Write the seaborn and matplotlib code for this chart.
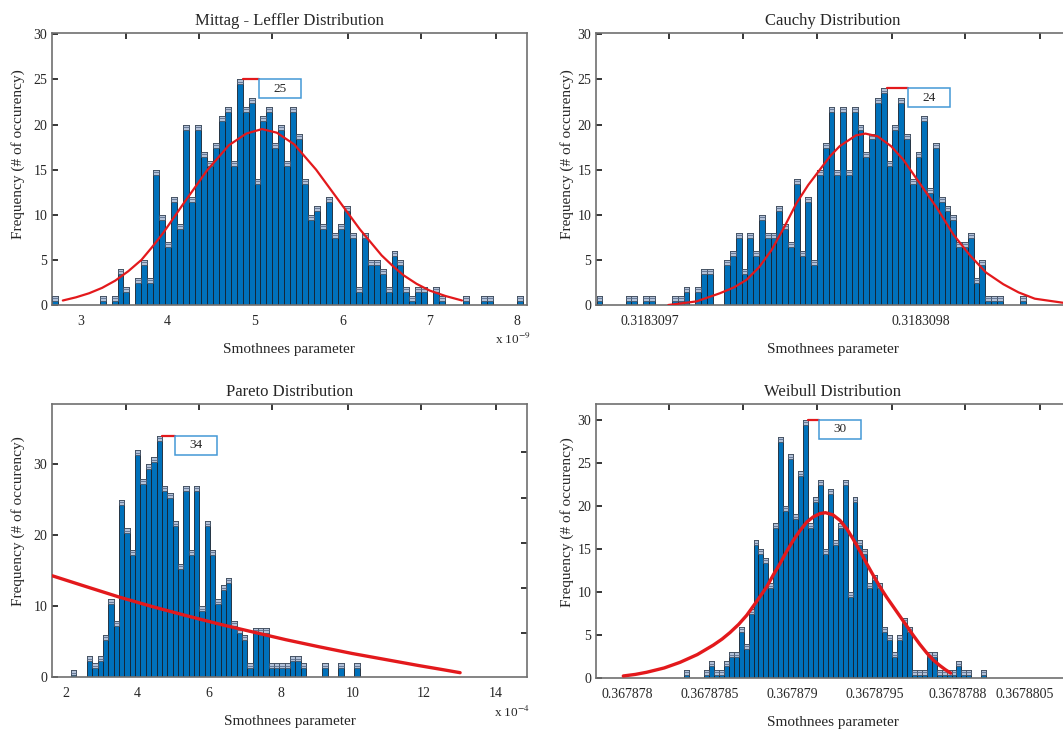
import numpy as np
import pandas as pd
import matplotlib
matplotlib.use("Agg")
import matplotlib.pyplot as plt
import matplotlib.transforms as mtransforms
from matplotlib.patches import Rectangle
from matplotlib.lines import Line2D
from matplotlib.ticker import FixedLocator
import seaborn as sns

# ------------------------------------------------------------------ texts
titles = ["Mittag - Leffler Distribution", "Cauchy Distribution",
          "Pareto Distribution", "Weibull Distribution"]
xlabel_text = "Smothnees parameter"
ylabel_text = "Frequency (# of occurency)"

# ------------------------------------------------------------------ Mittag-Leffler (x in units of 1e-9)
ml_bin_start = 2.676
ml_bin_width = 0.0682
ml_counts = [1, 0, 0, 0, 0, 0, 0, 0, 1, 0, 1, 4, 2, 0, 3, 5, 3, 15, 10, 7,
             12, 9, 20, 12, 20, 17, 16, 18, 21, 22, 16, 25, 22, 23, 14, 21, 22, 18, 20, 16,
             22, 19, 14, 10, 11, 9, 12, 8, 9, 11, 8, 2, 8, 5, 5, 4, 2, 6, 5, 2,
             1, 2, 2, 0, 2, 1, 0, 0, 0, 1, 0, 0, 1, 1, 0, 0, 0, 0, 1]
ml_curve_x = [2.80, 2.95, 3.10, 3.25, 3.40, 3.55, 3.70, 3.825, 3.95, 4.20,
              4.45, 4.70, 4.90, 5.08, 5.25, 5.45, 5.70, 5.95, 6.20, 6.45,
              6.58, 6.70, 6.85, 7.00, 7.18, 7.37]
ml_curve_y = [0.5, 0.85, 1.3, 1.9, 2.7, 3.75, 5.0, 6.45, 8.0, 11.5,
              14.9, 17.7, 19.0, 19.5, 19.1, 17.8, 15.0, 11.7, 8.4, 5.5,
              4.3, 3.3, 2.35, 1.6, 1.0, 0.5]
ml_xticks = [3, 4, 5, 6, 7, 8]
ml_xticklabels = ["3", "4", "5", "6", "7", "8"]
ml_multiplier = "x 10$^{-9}$"

# ------------------------------------------------------------------ Cauchy (x = origin + u * unit)
cauchy_origin = 0.3183097
cauchy_unit = 1e-7
cauchy_bin_start_u = -0.1967
cauchy_bin_width_u = 0.0214
cauchy_counts = [1, 0, 0, 0, 0, 1, 1, 0, 1, 1, 0, 0, 0, 1, 1, 2, 0, 2, 4, 4,
                 0, 0, 5, 6, 8, 4, 8, 6, 10, 8, 8, 11, 9, 7, 14, 6, 12, 5, 15, 18,
                 22, 15, 22, 15, 22, 20, 17, 19, 23, 24, 16, 20, 23, 19, 14, 17, 21, 13, 18, 12,
                 11, 10, 7, 7, 8, 3, 5, 1, 1, 1, 0, 0, 0, 1]
cauchy_curve_u = [0.068, 0.172, 0.258, 0.310, 0.357, 0.403, 0.449, 0.495, 0.541, 0.584,
                  0.627, 0.665, 0.700, 0.760, 0.795, 0.840, 0.890, 0.935, 1.000, 1.058,
                  1.120, 1.181, 1.240, 1.304, 1.360, 1.420, 1.524, 1.600]
cauchy_curve_y = [0.0, 0.4, 1.3, 1.95, 2.8, 4.2, 6.1, 8.6, 11.3, 13.3,
                  15.0, 16.5, 17.6, 18.8, 19.0, 18.7, 17.6, 16.1, 13.3, 10.8,
                  7.8, 5.5, 3.6, 2.3, 1.4, 0.7, 0.25, 0.1]
cauchy_xticks = [0.3183097, 0.3183098]
cauchy_xticklabels = ["0.3183097", "0.3183098"]

# ------------------------------------------------------------------ Pareto (x in units of 1e-4)
pareto_bin_start = 2.1425
pareto_bin_width = 0.14925
pareto_counts = [1, 0, 0, 3, 2, 3, 6, 11, 8, 25, 21, 18, 32, 28, 30, 31, 34, 27, 26, 22,
                 16, 27, 18, 27, 10, 22, 18, 11, 13, 14, 8, 7, 6, 2, 7, 7, 7, 2, 2, 2,
                 2, 3, 3, 2, 0, 0, 0, 2, 0, 0, 2, 0, 0, 2]
pareto_curve_x = [1.62, 2.55, 3.49, 4.42, 5.35, 6.28, 7.21, 8.14, 9.07, 10.00,
                  10.93, 11.86, 12.50, 13.01]
pareto_curve_y = [14.3, 12.8, 11.3, 9.95, 8.7, 7.5, 6.4, 5.3, 4.3, 3.35,
                  2.5, 1.65, 1.1, 0.65]
pareto_xticks = [2, 4, 6, 8, 10, 12, 14]
pareto_xticklabels = ["2", "4", "6", "8", "10", "12", "14"]
pareto_multiplier = "x 10$^{-4}$"

# ------------------------------------------------------------------ Weibull (x = origin + u * unit)
weibull_origin = 0.367878
weibull_unit = 5e-7
weibull_bin_start_u = 0.6917
weibull_bin_width_u = 0.05986
weibull_counts = [1, 0, 0, 0, 1, 2, 1, 1, 2, 3, 3, 6, 4, 8, 16, 15, 14, 11, 18, 28,
                  20, 26, 19, 24, 30, 18, 21, 23, 15, 22, 16, 18, 23, 10, 21, 16, 15, 11, 12, 11,
                  6, 5, 3, 5, 7, 6, 1, 1, 1, 3, 3, 1, 1, 1, 1, 2, 1, 1, 0, 0, 1]
weibull_curve_u = [-0.045, 0.100, 0.238, 0.450, 0.641, 0.850, 1.044, 1.150, 1.245, 1.350,
                   1.447, 1.560, 1.689, 1.770, 1.850, 1.930, 2.011, 2.090, 2.173, 2.250,
                   2.334, 2.400, 2.490, 2.576, 2.660, 2.737, 2.820, 2.898, 2.980, 3.059,
                   3.140, 3.220, 3.300, 3.380, 3.460, 3.540, 3.624, 3.700, 3.780, 3.850,
                   3.914]
weibull_curve_y = [0.27, 0.45, 0.7, 1.2, 1.85, 2.75, 3.85, 4.55, 5.3, 6.25,
                   7.3, 8.8, 10.6, 12.0, 13.3, 14.7, 16.0, 17.1, 18.1, 18.7,
                   19.1, 19.2, 18.95, 18.3, 17.3, 16.1, 14.7, 13.3, 11.9, 10.6,
                   9.4, 8.3, 7.2, 6.1, 5.0, 3.95, 2.95, 2.15, 1.5, 1.0,
                   0.6]
weibull_xticks = [0.367878, 0.3678785, 0.367879, 0.3678795, 0.36788, 0.3678805]
weibull_xticklabels = ["0.367878", "0.3678785", "0.367879", "0.3678795", "0.3678788", "0.3678805"]

# ------------------------------------------------------------------ style
sns.set_style("white")
plt.rcParams["font.family"] = ["Liberation Serif", "DejaVu Serif"]
plt.rcParams["mathtext.fontset"] = "stix"

DPI = 100
FIG_W, FIG_H = 1063, 733
BAR = "#0071BB"
BAR_EDGE = "#16202c"
CAP = "#b2c1d8"
CAP_EDGE = "#3b4656"
CAP_MID = "#5b6e8c"
RED = "#e3191c"
BOX_EDGE = "#4499d6"
SPINE = "#707070"
CAP_PX = 5.0
BOX_W, BOX_H = 42.0, 19.0
TICK_FS = 10

fig = plt.figure(figsize=(FIG_W / DPI, FIG_H / DPI), dpi=DPI)
fig.patch.set_facecolor("white")


def draw_panel(rect, title, edges, counts, cx, cy, curve_lw, xlim, ylim,
               xticks, xticklabels, yticks, top_ticks, right_ticks, gap_px,
               ylabel_xy, multiplier=None, mult_y=-0.125):
    ax = fig.add_axes(rect)
    edges = np.asarray(edges, dtype=float)
    counts = np.asarray(counts, dtype=float)
    centers = (edges[:-1] + edges[1:]) / 2.0
    hist_df = pd.DataFrame({"x": centers, "w": counts})
    sns.histplot(data=hist_df, x="x", weights="w", bins=[float(e) for e in edges], ax=ax,
                 color=BAR, edgecolor=BAR_EDGE, linewidth=0.6, alpha=1.0, zorder=2)
    ax.set_xlim(*xlim)
    ax.set_ylim(*ylim)

    # light caps on top of every non-empty bar
    cap_h = CAP_PX * (ylim[1] - ylim[0]) / (rect[3] * FIG_H)
    m = counts > 0
    lefts = edges[:-1][m]
    widths = np.diff(edges)[m]
    ax.bar(lefts, cap_h, width=widths, bottom=counts[m] - cap_h, align="edge",
           color=CAP, edgecolor=CAP_EDGE, linewidth=0.5, zorder=3)
    ax.hlines(counts[m] - cap_h / 2.0, lefts, lefts + widths, color=CAP_MID,
              linewidth=0.6, zorder=3.2)

    # fitted curve
    curve_df = pd.DataFrame({"x": np.asarray(cx, dtype=float), "y": np.asarray(cy, dtype=float)})
    sns.lineplot(data=curve_df, x="x", y="y", ax=ax, color=RED, linewidth=curve_lw,
                 zorder=4, solid_joinstyle="round", solid_capstyle="round")

    # max annotation
    imax = int(np.argmax(counts))
    xa, ya = edges[imax + 1], counts[imax]
    trans = fig.dpi_scale_trans + mtransforms.ScaledTranslation(xa, ya, ax.transData)
    ax.add_artist(Line2D([0, gap_px / DPI], [0, 0], transform=trans, color=RED,
                         linewidth=1.6, zorder=6))
    ax.add_artist(Rectangle((gap_px / DPI, -BOX_H / DPI), BOX_W / DPI, BOX_H / DPI,
                            transform=trans, facecolor="white", edgecolor=BOX_EDGE,
                            linewidth=1.1, zorder=6))
    ax.text((gap_px + BOX_W / 2) / DPI, -BOX_H / 2 / DPI, str(int(ya)), transform=trans,
            ha="center", va="center", fontsize=9.5, zorder=7)

    # axes cosmetics
    ax.set_title(title, fontsize=12, pad=6)
    ax.set_xlabel(xlabel_text, fontsize=11, labelpad=11)
    ax.set_ylabel(ylabel_text, fontsize=11)
    ax.yaxis.set_label_coords(*ylabel_xy)
    ax.set_xticks(xticks)
    ax.set_xticklabels(xticklabels)
    ax.set_yticks(yticks)
    ax.set_yticklabels([str(v) for v in yticks])
    ax.xaxis.set_minor_locator(FixedLocator(top_ticks))
    ax.yaxis.set_minor_locator(FixedLocator(right_ticks))
    ax.tick_params(axis="x", which="major", bottom=True, top=False, length=0,
                   pad=7, labelsize=TICK_FS)
    ax.tick_params(axis="x", which="minor", bottom=False, top=True, direction="in",
                   length=4, width=1.1, color="black")
    ax.tick_params(axis="y", which="major", left=True, right=False, direction="in",
                   length=4, width=1.1, color="black", pad=3.5, labelsize=TICK_FS)
    ax.tick_params(axis="y", which="minor", left=False, right=True, direction="in",
                   length=4, width=1.1, color="black")
    for s in ax.spines.values():
        s.set_color(SPINE)
        s.set_linewidth(1.2)
    ax.grid(False)
    if multiplier:
        ax.text(1.008, mult_y, multiplier, transform=ax.transAxes, ha="right",
                va="center", fontsize=9.5)
    return ax


# ---------------- panel 1
n = len(ml_counts)
ml_edges = ml_bin_start + ml_bin_width * np.arange(n + 1)
draw_panel([52 / FIG_W, 1 - 305 / FIG_H, 474.7 / FIG_W, 272 / FIG_H],
           titles[0], ml_edges, ml_counts, ml_curve_x, ml_curve_y, 1.6,
           (2.676, 8.111), (0, 30.15), ml_xticks, ml_xticklabels,
           [0, 5, 10, 15, 20, 25, 30], [3.52, 4.36, 5.20, 6.07, 6.90, 7.76],
           [5, 10, 15, 20, 25], 16.7, (-0.057, 0.555), ml_multiplier, -0.125)

# ---------------- panel 2
n = len(cauchy_counts)
c_edges = cauchy_origin + cauchy_unit * (cauchy_bin_start_u + cauchy_bin_width_u * np.arange(n + 1))
c_cx = cauchy_origin + cauchy_unit * np.asarray(cauchy_curve_u)
c_top = cauchy_origin + cauchy_unit * np.array([0.070, 0.343, 0.616, 0.893, 1.162, 1.439])
draw_panel([596 / FIG_W, 1 - 305 / FIG_H, 474 / FIG_W, 272 / FIG_H],
           titles[1], c_edges, cauchy_counts, c_cx, cauchy_curve_y, 1.6,
           (cauchy_origin - 0.199 * cauchy_unit, cauchy_origin + 1.55 * cauchy_unit),
           (0, 30.15), cauchy_xticks, cauchy_xticklabels,
           [0, 5, 10, 15, 20, 25, 30], c_top, [5, 10, 15, 20, 25], 21.7, (-0.047, 0.555))

# ---------------- panel 3
n = len(pareto_counts)
p_edges = pareto_bin_start + pareto_bin_width * np.arange(n + 1)
draw_panel([52.3 / FIG_W, 1 - 677.3 / FIG_H, 474.4 / FIG_W, 273.3 / FIG_H],
           titles[2], p_edges, pareto_counts, pareto_curve_x, pareto_curve_y, 2.4,
           (1.62, 14.87), (0, 38.5), pareto_xticks, pareto_xticklabels,
           [0, 10, 20, 30], [3.67, 5.72, 7.77, 9.89, 11.92, 14.02],
           [6.2, 12.6, 18.9, 25.3, 31.8], 13.3, (-0.057, 0.57), pareto_multiplier, -0.127)

# ---------------- panel 4
n = len(weibull_counts)
w_edges = weibull_origin + weibull_unit * (weibull_bin_start_u + weibull_bin_width_u * np.arange(n + 1))
w_cx = weibull_origin + weibull_unit * np.asarray(weibull_curve_u)
w_top = weibull_origin + weibull_unit * np.array([0.511, 1.406, 2.301, 3.21, 4.087, 4.994])
ax4 = draw_panel([596 / FIG_W, 1 - 678.3 / FIG_H, 474 / FIG_W, 274.3 / FIG_H],
                 titles[3], w_edges, weibull_counts, w_cx, weibull_curve_y, 2.4,
                 (weibull_origin - 0.375 * weibull_unit, weibull_origin + 5.357 * weibull_unit),
                 (0, 31.8), weibull_xticks, weibull_xticklabels,
                 [0, 5, 10, 15, 20, 25, 30], w_top, [5, 10, 15, 20, 25], 11.0, (-0.047, 0.57))
last = ax4.get_xticklabels()[-1]
last.set_transform(last.get_transform() + mtransforms.ScaledTranslation(-0.16, 0, fig.dpi_scale_trans))

fig.savefig("out.png", dpi=DPI, facecolor="white")
